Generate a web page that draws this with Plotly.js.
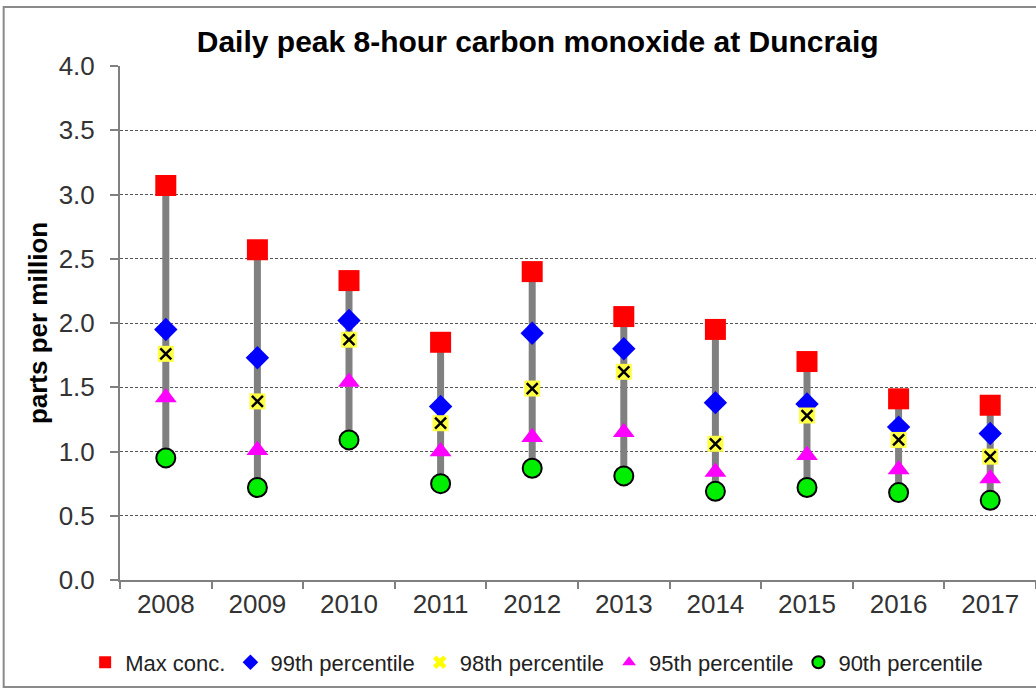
<!DOCTYPE html>
<html><head><meta charset="utf-8">
<script src="https://cdn.plot.ly/plotly-3.0.1.min.js"></script>
<style>body{margin:0;padding:0;background:#fff}#chart{width:1036px;height:690px}</style>
</head><body><div id="chart"></div>
<script>
const years = ['2008','2009','2010','2011','2012','2013','2014','2015','2016','2017'];
const maxConc = [3.07,2.57,2.33,1.85,2.40,2.05,1.95,1.70,1.41,1.36];
const p99 = [1.95,1.73,2.02,1.35,1.92,1.80,1.38,1.37,1.19,1.14];
const p98 = [1.76,1.39,1.87,1.22,1.49,1.62,1.06,1.28,1.09,0.96];
const p95 = [1.42,1.01,1.54,1.00,1.11,1.15,0.84,0.97,0.86,0.79];
const p90 = [0.95,0.72,1.09,0.75,0.87,0.81,0.69,0.72,0.68,0.62];

// vertical range lines from 90th percentile up to max
const lx = [], ly = [];
years.forEach((y,i)=>{ lx.push(y,y,null); ly.push(p90[i],maxConc[i],null); });

const font = 'Liberation Sans, Arial, sans-serif';
const traces = [
  {x:lx,y:ly,mode:'lines',line:{color:'#808080',width:7},showlegend:false,hoverinfo:'skip',connectgaps:false},
  {x:years,y:maxConc,name:'Max conc.',mode:'markers',marker:{symbol:'square',color:'#ff0000',size:21}},
  {x:years,y:p99,name:'99th percentile',mode:'markers',marker:{symbol:'diamond',color:'#0000ff',size:18}},
  {x:years,y:p98,name:'98th percentile',mode:'markers',marker:{symbol:'x',color:'#ffff00',size:13,line:{width:0}}},
  {x:years,y:p98,mode:'markers',showlegend:false,marker:{symbol:'square',color:'#ffff44',size:16}},
  {x:years,y:p98,mode:'markers',showlegend:false,marker:{symbol:'x-thin-open',color:'#000',size:11,line:{width:2.5,color:'#000'}}},
  {x:years,y:p95,name:'95th percentile',mode:'markers',marker:{symbol:'triangle-up',color:'#ff00ff',size:19}},
  {x:years,y:p90,name:'90th percentile',mode:'markers',marker:{symbol:'circle',color:'#00ee00',size:19,line:{width:2,color:'#000'}}}
];

const layout = {
  width:1036,height:690,
  margin:{l:120,r:0,t:66,b:110,autoexpand:false},
  paper_bgcolor:'#fff',plot_bgcolor:'#fff',
  font:{family:font,color:'#222'},
  title:{text:'<b>Daily peak 8-hour carbon monoxide at Duncraig</b>',font:{size:30,color:'#000',family:font},x:0.519,xanchor:'center',y:0.94,yanchor:'middle'},
  xaxis:{type:'category',range:[-0.5,9.5],showgrid:false,showline:true,linecolor:'#808080',linewidth:2,
    ticks:'outside',ticklen:7,tickcolor:'#808080',tickwidth:2,tickson:'boundaries',
    tickfont:{size:26,color:'#333',family:font},zeroline:false,fixedrange:true},
  yaxis:{range:[0,4],dtick:0.5,tickformat:'.1f',showgrid:true,gridcolor:'#555',griddash:'3px,2px',gridwidth:1,
    showline:true,linecolor:'#808080',linewidth:2,ticks:'outside',ticklen:8,tickcolor:'#808080',tickwidth:2,
    ticklabelstandoff:10,tickfont:{size:26,color:'#333',family:font},zeroline:false,
    title:{text:'<b>parts per million</b>',font:{size:26,color:'#000',family:font},standoff:4}},
  legend:{orientation:'h',xref:'container',yref:'container',x:0.518,xanchor:'center',y:0.04,yanchor:'middle',
    font:{size:22,color:'#222',family:font},
    itemwidth:30,itemsizing:'constant',tracegroupgap:0,bgcolor:'rgba(0,0,0,0)'},
  shapes:[{type:'rect',xref:'paper',yref:'paper',x0:-0.127,x1:1.02,y0:-0.208,y1:1.115,line:{color:'#8a8a8a',width:2},layer:'below'}],
  showlegend:true
};
Plotly.newPlot('chart',traces,layout,{displayModeBar:false,staticPlot:true});
</script></body></html>
